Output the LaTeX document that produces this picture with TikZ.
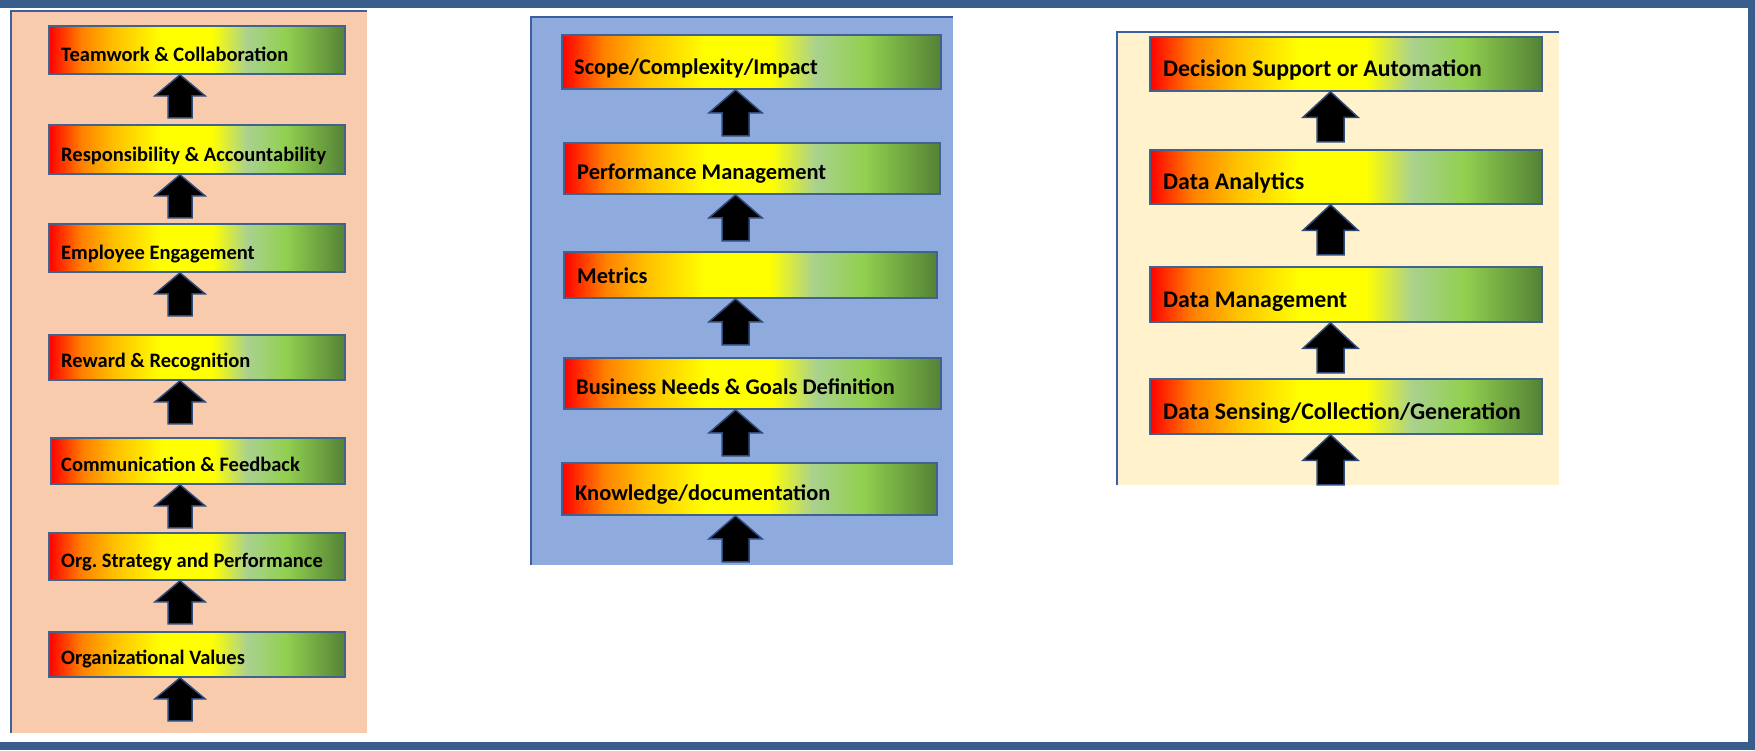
\documentclass[tikz,border=0pt]{standalone}
\usepackage{fontspec}
\setmainfont{Carlito}
\frenchspacing

% palette
\definecolor{framebar}{HTML}{3A5E8C}
\definecolor{panelline}{HTML}{3C5FA0}
\definecolor{boxline}{HTML}{41628F}
\definecolor{arrowline}{HTML}{2E4A7A}
\definecolor{peach}{HTML}{F8CBAD}
\definecolor{skyblue}{HTML}{8FAADC}
\definecolor{cream}{HTML}{FFF2CC}
\definecolor{gA}{HTML}{FF0000}
\definecolor{gB}{HTML}{FF8000}
\definecolor{gC}{HTML}{FFC000}
\definecolor{gD}{HTML}{FFFF00}
\definecolor{gE}{HTML}{FFFF00}
\definecolor{gF}{HTML}{A9D18E}
\definecolor{gG}{HTML}{92D050}
\definecolor{gH}{HTML}{548235}

% red - yellow - green band; the visible part runs from 25bp to 75bp
\pgfdeclarehorizontalshading{traffic}{100bp}{%
  color(0bp)=(gA); color(25bp)=(gA); color(30.5bp)=(gB); color(36bp)=(gC);
  color(44bp)=(gD); color(52.5bp)=(gE); color(58.5bp)=(gF); color(65bp)=(gG);
  color(75bp)=(gH); color(100bp)=(gH)}

\tikzset{
  bar/.style={draw=boxline, line width=1.8pt, shading=traffic, inner sep=0pt,
    anchor=north west},
  lbl/.style={inner sep=0pt, anchor=base west, text=black, font=\bfseries},
  lblA/.style={lbl, font=\fontsize{20.5pt}{24pt}\selectfont\bfseries},
  lblB/.style={lbl, font=\fontsize{22.4pt}{26pt}\selectfont\bfseries},
  lblC/.style={lbl, font=\fontsize{23.8pt}{28pt}\selectfont\bfseries},
  blockarrow/.style={fill=black, draw=arrowline, line width=1.5pt, line join=miter},
  paneledge/.style={draw=panelline, line width=2pt},
}

% #1 name, #2 x1, #3 y1, #4 x2, #5 y2, #6 label style, #7 text shift x, #8 baseline above bottom, #9 text
\newcommand\gradbox[9]{%
  \node[bar, minimum width={(#4-#2)*1pt}, minimum height={(#5-#3)*1pt}] (#1) at (#2,#3) {};
  \node[#6] (#1-t) at ([xshift=#7pt, yshift=#8pt]#1.south west) {#9};
}

% #1 box above, #2 axis coordinate, #3 head half width, #4 shaft half width, #5 head length, #6 total length
\newcommand\uparrowfrom[6]{%
  \draw[blockarrow] (#1.south -| #2) -- ++(#3,#5) -- ++({#4-#3},0) -- ++(0,{#6-#5})
    -- ++({-2*#4},0) -- ++(0,{#5-#6}) -- ++({#4-#3},0) -- cycle;
}

\begin{document}
\begin{tikzpicture}[x=1pt, y=-1pt]
\useasboundingbox (0,0) rectangle (1755,750);
\fill[white] (0,0) rectangle (1755,750);

% outer frame
\fill[framebar] (0,0) rectangle (1755,8);
\fill[framebar] (0,742) rectangle (1755,750);
\fill[framebar] (1748,0) rectangle (1755,750);

% ---------- people column ----------
\fill[peach] (10,11) rectangle (367,733);
\draw[paneledge] (11,733) -- (11,11) -- (367,11);
\coordinate (axA) at (180,0);
\gradbox{a1}{48}{25}{344}{73}{lblA}{13}{13.5}{Teamwork \& Collaboration}
\gradbox{a2}{48}{124}{344}{173}{lblA}{13}{13.5}{Responsibility \& Accountability}
\gradbox{a3}{48}{223}{344}{271}{lblA}{13}{13.5}{Employee Engagement}
\gradbox{a4}{48}{334}{344}{379}{lblA}{13}{13.5}{Reward \& Recognition}
\gradbox{a5}{50}{437}{344}{483}{lblA}{11}{13.5}{Communication \& Feedback}
\gradbox{a6}{48}{532}{344}{579}{lblA}{13}{13.5}{Org. Strategy and Performance}
\gradbox{a7}{48}{631}{344}{676}{lblA}{13}{13.5}{Organizational Values}
\foreach \b in {a1,a2,a3,a4,a5,a6,a7}{\uparrowfrom{\b}{axA}{25}{12}{21}{43}}

% ---------- measurement column ----------
\fill[skyblue] (530,16) rectangle (953,565);
\draw[paneledge] (531,565) -- (531,17) -- (953,17);
\coordinate (axB) at (735.5,0);
\gradbox{b1}{561}{34}{940}{88}{lblB}{13}{15}{Scope/Complexity/Impact}
\gradbox{b2}{563}{142}{939}{193}{lblB}{14}{15}{Performance Management}
\gradbox{b3}{563}{251}{936}{297}{lblB}{14}{15}{Metrics}
\gradbox{b4}{563}{357}{940}{408}{lblB}{13}{15}{Business Needs \& Goals Definition}
\gradbox{b5}{561}{462}{936}{514}{lblB}{14}{15}{Knowledge/documentation}
\foreach \b in {b1,b2,b3,b4,b5}{\uparrowfrom{\b}{axB}{26.5}{13.5}{23}{46}}

% ---------- data column ----------
\fill[cream] (1116,31) rectangle (1559,485);
\draw[paneledge] (1117,485) -- (1117,32) -- (1559,32);
\coordinate (axC) at (1330.5,0);
\gradbox{c1}{1149}{36}{1541}{90}{lblC}{14}{15.5}{Decision Support or Automation}
\gradbox{c2}{1149}{149}{1541}{203}{lblC}{14}{15.5}{Data Analytics}
\gradbox{c3}{1149}{266}{1541}{321}{lblC}{14}{15.5}{Data Management}
\gradbox{c4}{1149}{378}{1541}{433}{lblC}{14}{15.5}{Data Sensing/Collection/Generation}
\foreach \b in {c1,c2,c3,c4}{\uparrowfrom{\b}{axC}{27.5}{13.5}{25.5}{50}}
\end{tikzpicture}
\end{document}
